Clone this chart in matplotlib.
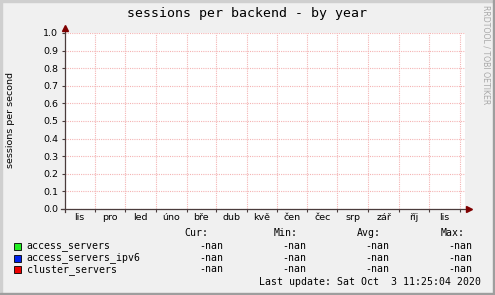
import numpy as np
import matplotlib
matplotlib.use("Agg")
import matplotlib.pyplot as plt
import matplotlib.dates as mdates
import matplotlib.patches as mpatches
from datetime import datetime

# --- data ---
title = "sessions per backend - by year"
y_label = "sessions per second"
series_names = ["access_servers", "access_servers_ipv6", "cluster_servers"]
series_colors = ["#22ee22", "#0022ee", "#ee0000"]
stat_headers = ["Cur:", "Min:", "Avg:", "Max:"]
stat_values = [["-nan", "-nan", "-nan", "-nan"],
               ["-nan", "-nan", "-nan", "-nan"],
               ["-nan", "-nan", "-nan", "-nan"]]
last_update = "Last update: Sat Oct  3 11:25:04 2020"

month_starts = ["2019-10-01", "2019-11-01", "2019-12-01", "2020-01-01", "2020-02-01",
                "2020-03-01", "2020-04-01", "2020-05-01", "2020-06-01", "2020-07-01",
                "2020-08-01", "2020-09-01", "2020-10-01", "2020-11-01"]
month_labels = ["lis", "pro", "led", "úno", "bře", "dub", "kvě", "čen", "čec",
                "srp", "zář", "říj", "lis"]
x_start = "2019-10-01 10:00"
x_end = "2020-11-06 00:00"
y_ticks = [0.0, 0.1, 0.2, 0.3, 0.4, 0.5, 0.6, 0.7, 0.8, 0.9, 1.0]
# no data recorded -> every sample is nan
sample_values = [np.full(len(month_starts), np.nan) for _ in series_names]

W, H = 495, 295
MONO = "DejaVu Sans Mono"
AXIS_COL = "#4a3c3c"
ARROW_COL = "#7f0000"
GRID_COL = "#f4b4b4"


def fx(x):
    return x / W


def fy(y):
    return 1 - y / H


fig = plt.figure(figsize=(W / 100, H / 100), dpi=100, facecolor="#f0f0f0")

# 3d-ish frame
fig.patches.append(mpatches.Rectangle((0, fy(2)), 1, 2 / H, transform=fig.transFigure, color="#cfcfcf", zorder=0))
fig.patches.append(mpatches.Rectangle((0, 0), 2 / W, 1, transform=fig.transFigure, color="#cfcfcf", zorder=0))
fig.patches.append(mpatches.Rectangle((0, 0), 1, 2 / H, transform=fig.transFigure, color="#9e9e9e", zorder=0))
fig.patches.append(mpatches.Rectangle((fx(W - 2), 0), 2 / W, 1, transform=fig.transFigure, color="#9e9e9e", zorder=0))

left, right, top, bottom = 64.5, 465, 33, 209
ax = fig.add_axes([fx(left), fy(bottom), fx(right - left), (bottom - top) / H])
ax.set_facecolor("white")

dates = [datetime.strptime(d, "%Y-%m-%d") for d in month_starts]
dnum = mdates.date2num(dates)
for vals, col in zip(sample_values, series_colors):
    ax.plot(dnum, vals, color=col, lw=1)

ax.set_xlim(mdates.date2num(datetime.strptime(x_start, "%Y-%m-%d %H:%M")),
            mdates.date2num(datetime.strptime(x_end, "%Y-%m-%d %H:%M")))
ax.set_ylim(0, 1.0)

# grid at month starts, labels centred in the month before
ax.set_xticks(dnum[1:])
ax.set_xticklabels([])
label_pos = (dnum[:-1] + dnum[1:]) / 2
ax.set_xticks(label_pos, minor=True)
ax.set_xticklabels(month_labels, minor=True, fontsize=6.8)
ax.set_yticks(y_ticks)
ax.set_yticklabels(["%.1f" % v for v in y_ticks], fontsize=6.8)

ax.tick_params(axis="both", which="major", direction="out", length=2.3, width=0.8,
               color=AXIS_COL, pad=2.2)
ax.tick_params(axis="x", which="minor", length=0, pad=2.6)
ax.grid(True, which="major", color=GRID_COL, linestyle=(0, (1, 1)), linewidth=0.8)

for s in ax.spines.values():
    s.set_visible(False)

# axes with arrows
ax.plot([0, 0], [-0.017, 1.02], transform=ax.transAxes, clip_on=False, color=AXIS_COL, lw=0.9, zorder=5)
ax.plot([-0.009, 1.005], [0, 0], transform=ax.transAxes, clip_on=False, color=AXIS_COL, lw=0.9, zorder=5)
ax.plot([0], [1.026], marker="^", ms=4, color=ARROW_COL, transform=ax.transAxes, clip_on=False, zorder=6)
ax.plot([1.01], [0], marker=">", ms=4, color=ARROW_COL, transform=ax.transAxes, clip_on=False, zorder=6)

# texts
fig.text(fx(247), fy(14), title, family=MONO, fontsize=9.5, ha="center", va="center")
fig.text(fx(11), fy(120), y_label, fontsize=6.8, rotation=90, ha="center", va="center")
fig.text(fx(486), fy(5), "RRDTOOL / TOBI OETIKER", fontsize=5.6, rotation=270,
         ha="center", va="top", color="#a8a8a8")

# legend
header_right = [208, 298, 381, 465]
value_right = [223, 306, 389, 472]
for hx, h in zip(header_right, stat_headers):
    fig.text(fx(hx), fy(233), h, family=MONO, fontsize=7.1, ha="right", va="center")
row_y = [246, 258, 269.5]
for i, (name, col) in enumerate(zip(series_names, series_colors)):
    y = row_y[i]
    fig.patches.append(mpatches.Rectangle((fx(13.5), fy(y + 3.5)), 7 / W, 7 / H,
                                          transform=fig.transFigure, facecolor=col,
                                          edgecolor="black", lw=0.6))
    fig.text(fx(26.5), fy(y), name, family=MONO, fontsize=7.1, ha="left", va="center")
    for vx, v in zip(value_right, stat_values[i]):
        fig.text(fx(vx), fy(y), v, family=MONO, fontsize=7.1, ha="right", va="center")
fig.text(fx(481), fy(282), last_update, family=MONO, fontsize=7.1, ha="right", va="center")

fig.savefig("out.png", dpi=100, facecolor=fig.get_facecolor())
